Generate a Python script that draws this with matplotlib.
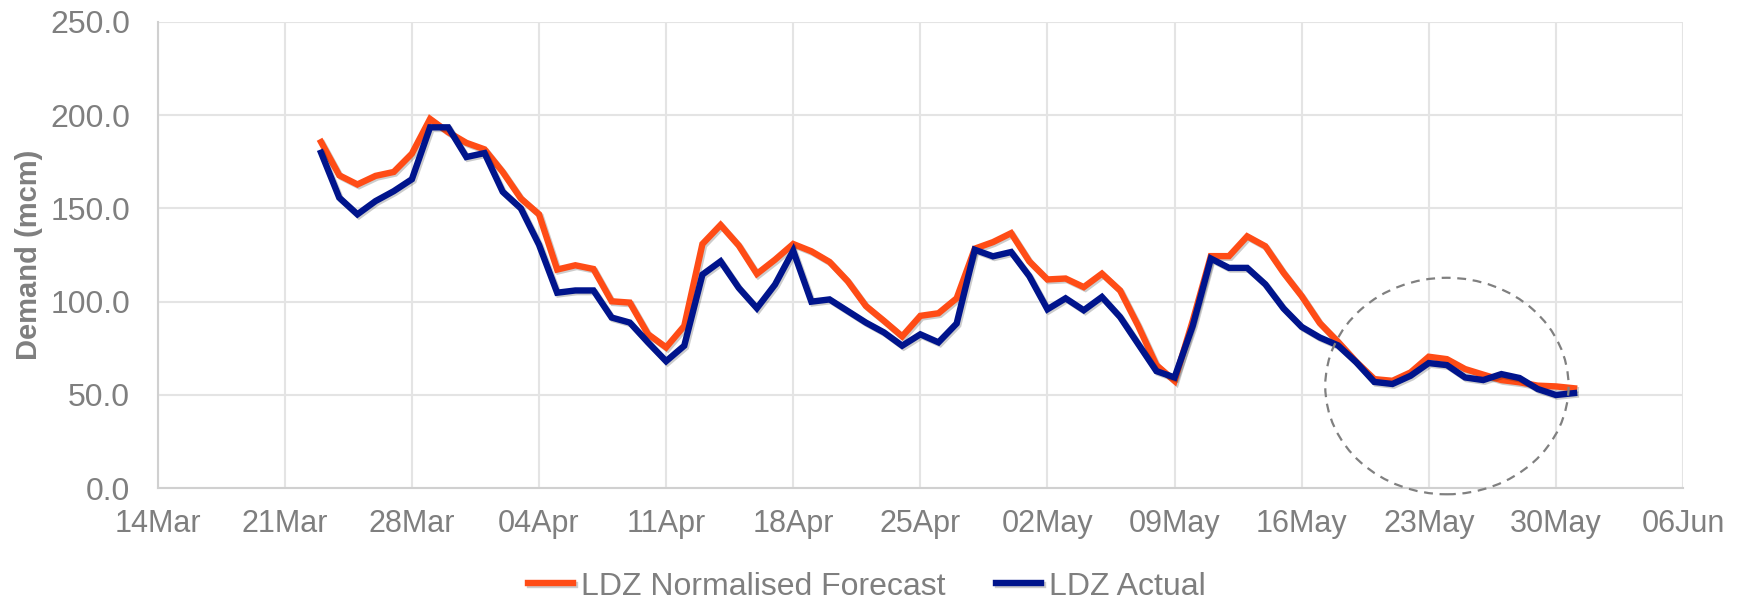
import matplotlib
matplotlib.use("Agg")
import matplotlib.pyplot as plt
import matplotlib.dates as mdates
import matplotlib.patheffects as pe
from matplotlib.patches import Ellipse
import pandas as pd

# daily values, 23 Mar -> 31 May
fecha_ini = "2021-03-23"
fecha_fin = "2021-05-31"

pronostico = [185.5, 167.7, 162.8, 167.4, 169.5, 179.3, 197.9, 190.8, 185.1,
              181.6, 169.5, 155.3, 146.8, 117.2, 119.5, 117.5, 100.2, 99.5,
              82.6, 75.5, 87.0, 130.9, 141.1, 130.1, 114.9, 122.5, 130.9,
              127.0, 121.3, 111.0, 97.7, 89.7, 81.4, 92.4, 93.8, 101.8,
              128.4, 131.9, 136.7, 121.6, 111.9, 112.4, 107.8, 115.0, 106.0,
              87.0, 66.0, 57.6, 89.7, 124.4, 124.4, 135.0, 129.7, 115.5,
              103.0, 88.5, 78.5, 67.8, 58.5, 57.6, 62.1, 70.5, 69.2,
              63.9, 60.9, 58.0, 56.8, 55.0, 54.6, 53.6]

real = [179.8, 155.7, 146.8, 153.9, 159.2, 165.6, 193.4, 193.4, 177.5,
        179.6, 158.9, 150.0, 130.5, 104.8, 106.0, 106.0, 91.5, 88.8,
        78.2, 68.1, 76.4, 114.5, 121.6, 107.4, 96.5, 109.2, 127.3,
        100.0, 101.2, 95.0, 88.8, 83.5, 76.4, 82.5, 78.2, 88.3,
        127.8, 124.3, 126.6, 113.7, 95.9, 101.8, 95.4, 102.5, 91.8,
        77.3, 62.8, 59.4, 87.0, 123.1, 118.1, 118.1, 109.3, 96.4,
        86.5, 80.8, 76.6, 67.6, 57.0, 55.9, 60.3, 67.1, 66.0,
        59.4, 58.0, 61.2, 59.1, 53.2, 50.0, 51.0]

fechas = pd.date_range(fecha_ini, fecha_fin, freq="D")

gris = "#7F7F7F"
naranja = "#FF4C16"
azul = "#00148C"

fig = plt.figure(figsize=(17.48, 6.01), dpi=100)
ax = fig.add_axes([0.0902, 0.1875, 0.8726, 0.7764])

sombra = [pe.SimpleLineShadow(offset=(1.2, -1.2), alpha=0.2, shadow_color="black"), pe.Normal()]
ax.plot(fechas, pronostico, color=naranja, lw=4.6, label="LDZ Normalised Forecast",
        solid_joinstyle="miter", path_effects=sombra, zorder=3)
ax.plot(fechas, real, color=azul, lw=4.6, label="LDZ Actual",
        solid_joinstyle="miter", path_effects=sombra, zorder=4)

# circulo punteado alrededor del final
centro = mdates.date2num(pd.Timestamp("2021-05-24"))
elip = Ellipse((centro, 54.8), width=13.4, height=116, fill=False,
               ls=(0, (4, 3)), lw=1.6, ec="#808080", clip_on=False, zorder=5)
ax.add_patch(elip)

ax.set_xlim(pd.Timestamp("2021-03-14"), pd.Timestamp("2021-06-06"))
ax.set_ylim(0, 250)
ax.set_yticks([0, 50, 100, 150, 200, 250])
ax.yaxis.set_major_formatter(matplotlib.ticker.FormatStrFormatter("%.1f"))
ax.set_xticks(pd.date_range("2021-03-14", "2021-06-06", freq="7D"))
ax.xaxis.set_major_formatter(mdates.DateFormatter("%d%b"))

ax.grid(True, color="#E4E4E4", lw=1.5)
ax.set_axisbelow(True)
for s in ["top", "right"]:
    ax.spines[s].set_visible(False)
ax.spines["left"].set_color("#D0D0D0")
ax.spines["bottom"].set_color("#D0D0D0")
ax.spines["left"].set_linewidth(1.5)
ax.spines["bottom"].set_linewidth(1.5)

ax.tick_params(axis="both", length=0, colors=gris)
ax.tick_params(axis="y", pad=20, labelsize=23)
ax.tick_params(axis="x", pad=15, labelsize=22)
for t in ax.get_yticklabels() + ax.get_xticklabels():
    t.set_family(["Liberation Sans", "DejaVu Sans"])

ax.set_ylabel("Demand (mcm)", color=gris, fontsize=21, fontweight="bold",
              family=["Liberation Sans", "DejaVu Sans"])
ax.yaxis.set_label_coords(-0.0755, 0.5)

leg = fig.legend(loc="center", bbox_to_anchor=(0.496, 0.024), ncol=2, frameon=False,
                 handlelength=1.4, handletextpad=0.25, columnspacing=1.6,
                 prop={"family": ["Liberation Sans", "DejaVu Sans"], "size": 23})
for t in leg.get_texts():
    t.set_color(gris)

fig.savefig("out.png", dpi=100)
